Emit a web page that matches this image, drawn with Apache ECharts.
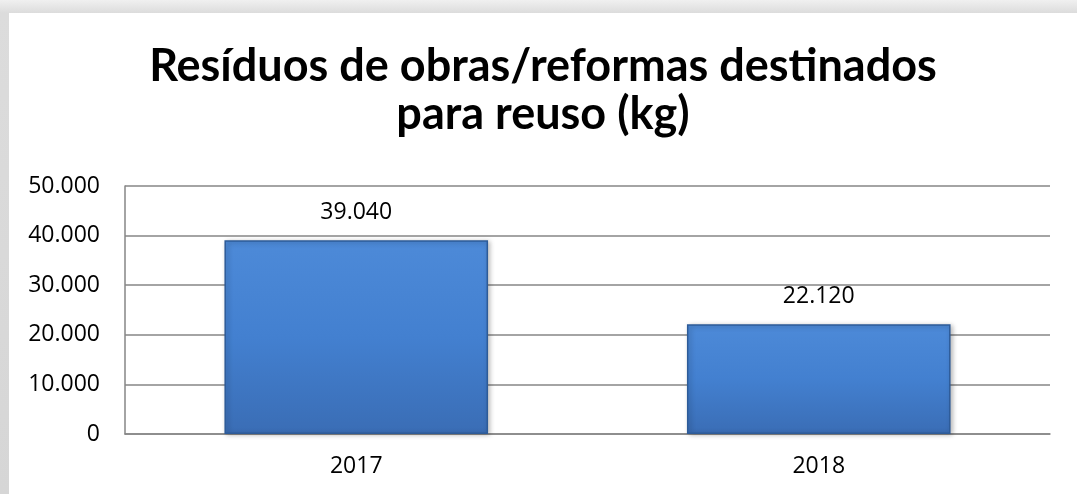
<!DOCTYPE html>
<html>
<head>
    <meta charset="UTF-8">
    <title>Resíduos de obras/reformas destinados para reuso</title>
    <script src="https://cdn.jsdelivr.net/npm/echarts@6/dist/echarts.min.js"></script>
</head>

<style>
    html, body {
        margin: 0;
        padding: 0;
        width: 1077px;
        height: 494px;
        overflow: hidden;
        background: linear-gradient(#f0f0f0, #dcdcdc 13px, #d6d6d6);
    }

    #chart {
        position: absolute;
        left: 9px;
        top: 13px;
        width: 1068px;
        height: 481px;
        background: #fff;
    }
</style>

<body>
<div id="chart"></div>

<script>
// dados
const categorias = ['2017', '2018'];
const valores = [39040, 22120];
const ticksY = [0, 10000, 20000, 30000, 40000, 50000];

// 39040 -> 39.040
function fmt(v) {
    return String(v).replace(/\B(?=(\d{3})+(?!\d))/g, '.');
}

const chart = echarts.init(document.getElementById('chart'));

const option = {
    animation: false,
    title: {
        text: 'Resíduos de obras/reformas destinados\npara reuso (kg)',
        left: 'center',
        top: 24,
        textStyle: {
            fontFamily: 'Lato',
            fontSize: 45,
            fontWeight: 'bold',
            color: '#000',
            lineHeight: 48
        }
    },
    grid: {
        left: 116,
        right: 27,
        top: 173,
        bottom: 60
    },
    xAxis: {
        type: 'category',
        data: categorias,
        axisLine: { lineStyle: { color: '#868686', width: 1.5 } },
        axisTick: { show: false },
        axisLabel: {
            color: '#000',
            fontFamily: 'Open Sans',
            fontSize: 23,
            margin: 21
        }
    },
    yAxis: {
        type: 'value',
        min: ticksY[0],
        max: ticksY[ticksY.length - 1],
        interval: 10000,
        axisLine: { show: true, lineStyle: { color: '#868686', width: 1.5 } },
        axisTick: { show: false },
        splitLine: { lineStyle: { color: '#868686', width: 1.5 } },
        axisLabel: {
            color: '#000',
            fontFamily: 'Open Sans',
            fontSize: 23,
            margin: 25,
            formatter: fmt
        }
    },
    series: [{
        type: 'bar',
        data: valores,
        barWidth: '57%',
        itemStyle: {
            color: new echarts.graphic.LinearGradient(0, 0, 0, 1, [
                { offset: 0, color: '#4d8ad8' },
                { offset: 0.5, color: '#4380d0' },
                { offset: 1, color: '#3a6db5' }
            ]),
            borderColor: '#2d5b98',
            borderWidth: 1.5,
            shadowColor: 'rgba(0, 0, 0, 0.3)',
            shadowBlur: 5,
            shadowOffsetX: 2,
            shadowOffsetY: 1
        },
        label: {
            show: true,
            position: 'top',
            distance: 16,
            color: '#000',
            fontFamily: 'Open Sans',
            fontSize: 23,
            formatter: p => fmt(p.value)
        }
    }]
};

chart.setOption(option);
</script>
</body>
</html>
